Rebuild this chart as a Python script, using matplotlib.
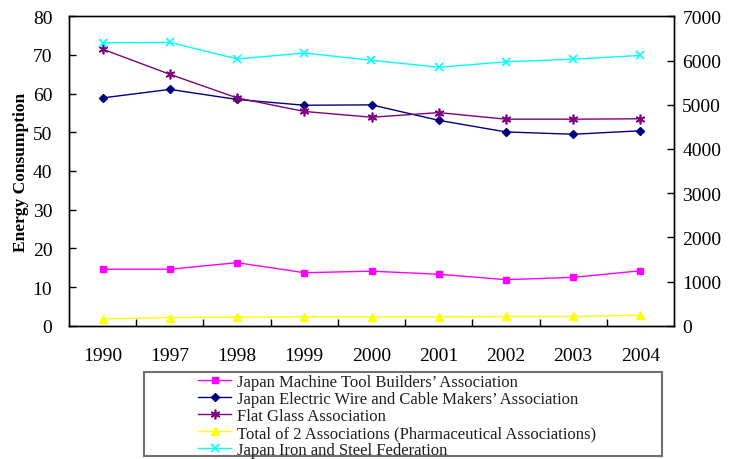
import numpy as np
import matplotlib
matplotlib.use('Agg')
import matplotlib.pyplot as plt
from matplotlib.patches import Rectangle
from matplotlib.ticker import MultipleLocator, FixedLocator

plt.rcParams['font.family'] = ['Liberation Serif', 'DejaVu Serif']

years = ['1990', '1997', '1998', '1999', '2000', '2001', '2002', '2003', '2004']

machine_tool = [14.6, 14.6, 16.3, 13.7, 14.1, 13.3, 11.9, 12.5, 14.2]
electric_wire = [58.9, 61.1, 58.5, 57.0, 57.1, 53.1, 50.1, 49.5, 50.4]
flat_glass = [71.5, 65.0, 58.9, 55.4, 53.9, 55.1, 53.4, 53.4, 53.5]
pharma = [1.8, 2.1, 2.2, 2.3, 2.3, 2.3, 2.4, 2.4, 2.7]
iron_steel = [6400, 6410, 6035, 6170, 6005, 5848, 5970, 6030, 6115]

labels = [u"Japan Machine Tool Builders\u2019 Association",
          u"Japan Electric Wire and Cable Makers\u2019 Association",
          u"Flat Glass Association",
          u"Total of 2 Associations (Pharmaceutical Associations)",
          u"Japan Iron and Steel Federation"]

fig = plt.figure(figsize=(7.35, 4.6), dpi=100)
ax = fig.add_axes([69/735, 1-326.7/460, 605/735, 309.4/460])
ax2 = ax.twinx()

x = np.arange(len(years))
lw = 1.0
h1, = ax.plot(x, machine_tool, color='#ff00ff', marker='s', ms=5, lw=lw, label=labels[0])
h2, = ax.plot(x, electric_wire, color='#000080', marker='D', ms=4, lw=lw, label=labels[1])
h3, = ax.plot(x, flat_glass, color='#800080', marker=(6, 2, 0), ms=7, mew=1.2, lw=lw, label=labels[2])
h4, = ax.plot(x, pharma, color='#ffff00', marker='^', ms=6, lw=lw, label=labels[3])
h5, = ax2.plot(x, iron_steel, color='#00ffff', marker='x', ms=6, mew=1.2, lw=lw, label=labels[4])

ax.set_xlim(-0.5, len(years) - 0.5)
ax.set_ylim(0, 80)
ax2.set_ylim(0, 7000)
ax.yaxis.set_major_locator(MultipleLocator(10))
ax2.yaxis.set_major_locator(MultipleLocator(1000))

ax.set_xticks(x)
ax.set_xticklabels(years)
ax.xaxis.set_minor_locator(FixedLocator(np.arange(0.5, len(years) - 1, 1.0)))
ax.tick_params(axis='x', which='major', length=0, pad=15, labelsize=14)
ax.tick_params(axis='x', which='minor', direction='in', length=5, width=1)
ax.tick_params(axis='y', direction='in', length=5, width=1, pad=12, labelsize=14)
ax2.tick_params(axis='y', direction='in', length=5, width=1, pad=6, labelsize=14)

for a in (ax, ax2):
    for s in a.spines.values():
        s.set_linewidth(1.0)
ax.spines['top'].set_color('#404040')

ax.set_ylabel('Energy Consumption', fontsize=12.5, fontweight='bold', labelpad=3)

# legend box drawn as its own frame, entries indented like the original
fig.patches.append(Rectangle((144/735, 3/460), 518/735, 84/460, transform=fig.transFigure,
                             fill=False, edgecolor='#707070', linewidth=1.5))
leg = fig.legend(handles=[h1, h2, h3, h4, h5], loc='upper left',
                 bbox_to_anchor=(198/735, 1-375/460),
                 fontsize=12, frameon=False,
                 borderpad=0, labelspacing=0.06, handlelength=2.0, handletextpad=0.35,
                 borderaxespad=0)
for t in leg.get_texts():
    t.set_color('#202020')

plt.savefig('out.png', dpi=100)
